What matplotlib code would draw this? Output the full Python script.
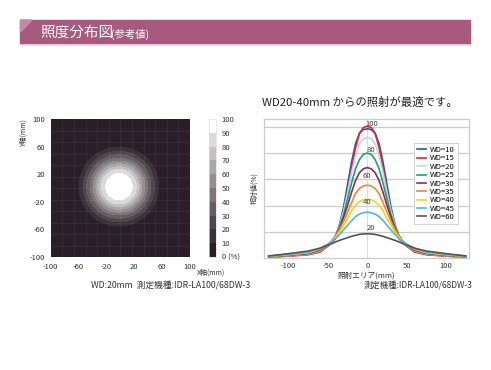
import numpy as np
import matplotlib
matplotlib.use("Agg")
import matplotlib.pyplot as plt
from matplotlib.colors import ListedColormap, BoundaryNorm
from matplotlib.patches import Rectangle, Polygon

plt.rcParams['font.family'] = ['Noto Sans CJK JP', 'DejaVu Sans']
plt.rcParams['axes.unicode_minus'] = False

# === Data ===
# left: radial illuminance profile of the spot at WD 20mm
heat_center = (-2, 2)
heat_r = [0, 12, 19, 25, 29, 33, 37, 41, 46, 51, 57, 70, 150]
heat_val = [100, 96, 90, 80, 70, 60, 50, 40, 30, 20, 10, 4, 0]
cbar_levels = [0, 10, 20, 30, 40, 50, 60, 70, 80, 90, 100]
cbar_labels = ['0 (%)', '10', '20', '30', '40', '50', '60', '70', '80', '90', '100']
heat_colors = ['#2a1f28', '#3b3138', '#4f464c', '#655d62', '#7c7579',
               '#948e91', '#aba7a9', '#c3c0c1', '#dbd9da', '#ffffff']
heat_ticks = [-100, -60, -20, 20, 60, 100]

# right: relative intensity profiles
x_mm = [-125, -100, -75, -60, -50, -45, -40, -35, -30, -25, -20, -15, -10, -5, 0,
        5, 10, 15, 20, 25, 30, 35, 40, 45, 50, 60, 75, 100, 125]
wd_labels = ['WD=10', 'WD=15', 'WD=20', 'WD=25', 'WD=30', 'WD=35', 'WD=40', 'WD=45', 'WD=60']
wd_colors = ['#1f5da8', '#e8232b', '#c9d3ec', '#1aa568', '#8c2c52', '#f08a26', '#f6d224', '#4cb6ea', '#555555']
wd10 = [0.8, 1.6, 2.8, 5.0, 9.5, 12.5, 17, 26, 39, 56, 73, 87, 95, 98, 98.5,
        98, 95, 87, 73, 56, 39, 26, 17, 12.5, 9.5, 5.0, 2.8, 1.6, 0.8]
wd15 = [0.6, 1.4, 2.5, 4.5, 9.0, 11.5, 15, 22, 34, 50, 68, 84, 95, 99.5, 100.5,
        99.5, 95, 84, 68, 50, 34, 22, 15, 11.5, 9.0, 4.5, 2.5, 1.4, 0.6]
wd20 = [0.9, 1.8, 3.0, 5.3, 9.5, 12.5, 17, 25, 36, 50, 65, 78, 87, 91, 92,
        91, 87, 78, 65, 50, 36, 25, 17, 12.5, 9.5, 5.3, 3.0, 1.8, 0.9]
wd25 = [1.0, 2.0, 3.3, 5.8, 10, 13, 17, 24, 33, 45, 57, 68, 75, 79, 80,
        79, 75, 68, 57, 45, 33, 24, 17, 13, 10, 5.8, 3.3, 2.0, 1.0]
wd30 = [1.1, 2.2, 3.6, 6.2, 10, 13, 17, 23, 31, 40, 50, 59, 65, 68, 69,
        68, 65, 59, 50, 40, 31, 23, 17, 13, 10, 6.2, 3.6, 2.2, 1.1]
wd35 = [1.2, 2.4, 3.9, 6.6, 10.5, 13, 17, 22, 28, 35, 42, 49, 53, 55, 55.5,
        55, 53, 49, 42, 35, 28, 22, 17, 13, 10.5, 6.6, 3.9, 2.4, 1.2]
wd40 = [1.3, 2.6, 4.2, 7.0, 10.5, 13, 16, 20, 25, 30, 36, 40, 43, 44.5, 44.5,
        44.5, 43, 40, 36, 30, 25, 20, 16, 13, 10.5, 7.0, 4.2, 2.6, 1.3]
wd45 = [1.4, 2.8, 4.6, 7.3, 10.5, 12.5, 15, 18, 21.5, 25, 28.5, 31.5, 33.5, 34.5, 35,
        34.5, 33.5, 31.5, 28.5, 25, 21.5, 18, 15, 12.5, 10.5, 7.3, 4.6, 2.8, 1.4]
wd60 = [1.6, 3.3, 5.3, 7.5, 9.8, 11, 12.3, 13.5, 14.5, 15.5, 16.5, 17.3, 18, 18.3, 18.5,
        18.3, 18, 17.3, 16.5, 15.5, 14.5, 13.5, 12.3, 11, 9.8, 7.5, 5.3, 3.3, 1.6]
wd_series = [wd10, wd15, wd20, wd25, wd30, wd35, wd40, wd45, wd60]
grid_vals = [20, 40, 60, 80, 100]
grid_label_x = [5, 0, -1, 5, 6]

W, H = 491, 370
fig = plt.figure(figsize=(W / 100, H / 100), dpi=100)

def fx(px):
    return px / W

def fy(py):
    return 1 - py / H

# === Banner ===
banner = fig.add_axes([0, 0, 1, 1], zorder=-1)
banner.set_xlim(0, W)
banner.set_ylim(H, 0)
banner.axis('off')
banner.add_patch(Rectangle((20.5, 20), 450, 24, color='#a65a7e'))
banner.add_patch(Polygon([(20.5, 20), (32, 20), (20.5, 32)], color='#c48ba7'))
banner.plot([20.5, 470.5], [44, 44], color='#e6c6d5', lw=0.8)
fig.text(fx(40.5), fy(33), '照度分布図', color='white', fontsize=10.5, va='center')
fig.text(fx(111), fy(34), '(参考値)', color='white', fontsize=7.5, va='center')

# === Heatmap ===
ax1 = fig.add_axes([fx(50.7), fy(257), fx(139.3), 138 / H])
gx = np.linspace(-100, 100, 401)
GX, GY = np.meshgrid(gx, gx)
R = np.hypot(GX - heat_center[0], GY - heat_center[1])
Z = np.interp(R, heat_r, heat_val)
cmap = ListedColormap(heat_colors)
norm = BoundaryNorm(cbar_levels, cmap.N)
ax1.contourf(GX, GY, Z, levels=cbar_levels, cmap=cmap, norm=norm)
for v in np.linspace(-100, 100, 13)[1:-1]:
    ax1.axvline(v, color='#ffffff', alpha=0.07, lw=0.5)
    ax1.axhline(v, color='#ffffff', alpha=0.07, lw=0.5)
ax1.set_xlim(-100, 100)
ax1.set_ylim(-100, 100)
ax1.set_xticks(heat_ticks)
ax1.set_yticks(heat_ticks)
ax1.tick_params(length=0, labelsize=5.5, colors='#333333', pad=4)
for s in ax1.spines.values():
    s.set_visible(False)
fig.text(fx(24), fy(133), 'Y軸(mm)', rotation=90, fontsize=5, ha='center', va='center', color='#333333')
fig.text(fx(197), fy(273), 'X軸(mm)', fontsize=5, ha='left', va='center', color='#333333')
fig.text(fx(250), fy(285), 'WD:20mm  測定機種:IDR-LA100/68DW-3', fontsize=6.3,
         ha='right', va='center', color='#333333')

# colorbar
cax = fig.add_axes([fx(209), fy(257), fx(7), 138 / H])
cb = fig.colorbar(plt.cm.ScalarMappable(norm=norm, cmap=cmap), cax=cax, ticks=cbar_levels)
cb.ax.set_yticklabels(cbar_labels)
cb.ax.tick_params(length=0, labelsize=5.5, colors='#333333', pad=4)
cb.outline.set_edgecolor('#dddddd')
cb.outline.set_linewidth(0.5)

# === Line profiles ===
fig.text(fx(262), fy(102), 'WD20-40mm からの照射が最適です。', fontsize=8.2, va='center', color='#222222')
ax2 = fig.add_axes([fx(264), fy(258), fx(205), 139 / H])
for ys, lab, col in zip(wd_series, wd_labels, wd_colors):
    ax2.plot(x_mm, ys, color=col, lw=1.2, label=lab)
for g in grid_vals:
    ax2.axhline(g, color='#cccccc', lw=0.9, zorder=0)
ax2.axvline(0, color='#dddddd', lw=0.8, zorder=0)
for g, gxl in zip(grid_vals, grid_label_x):
    ax2.text(gxl, g + 2.5, str(g), fontsize=5.5, ha='center', va='center', color='#444444')
ax2.set_xlim(-131, 129)
ax2.set_ylim(0, 106)
ax2.set_xticks([-100, -50, 0, 50, 100])
ax2.set_yticks([])
ax2.tick_params(length=0, labelsize=5.5, colors='#333333', pad=3)
for s in ax2.spines.values():
    s.set_color('#cccccc')
    s.set_linewidth(0.9)
ax2.set_xlabel('照射エリア(mm)', fontsize=5.5, color='#333333', labelpad=1)
ax2.set_ylabel('相対値(%)', fontsize=5, color='#333333', labelpad=4)
leg = ax2.legend(loc='upper left', bbox_to_anchor=(0.732, 0.827), borderaxespad=0,
                 fontsize=5.5, labelspacing=0.05, handlelength=1.2, handletextpad=0.5,
                 borderpad=0.4, fancybox=False, framealpha=1)
leg.get_frame().set_edgecolor('#cccccc')
leg.get_frame().set_linewidth(0.6)
fig.text(fx(473), fy(285), '測定機種:IDR-LA100/68DW-3', fontsize=6, ha='right', va='center', color='#333333')

fig.savefig('out.png', dpi=100)
